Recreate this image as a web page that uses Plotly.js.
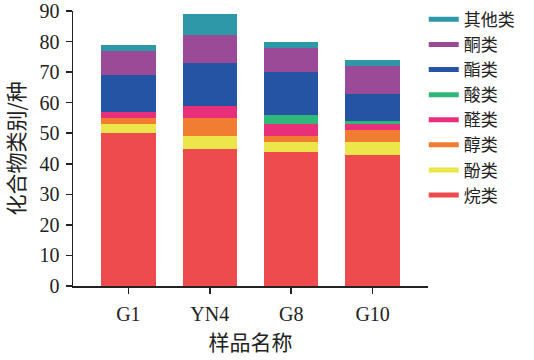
<!DOCTYPE html>
<html>
<head>
<meta charset="utf-8">
<script src="https://cdn.plot.ly/plotly-3.0.1.min.js"></script>
<style>html,body{margin:0;padding:0;background:#fff;}#chart{width:534px;height:360px;}</style>
</head>
<body>
<div id="chart"></div>
<script>
const samples = ['G1', 'YN4', 'G8', 'G10'];
const seriesNames = ['烷类', '酚类', '醇类', '醛类', '酸类', '酯类', '酮类', '其他类'];
const alkanes = [50, 45, 44, 43];
const phenols = [3, 4, 3, 4];
const alcohols = [2, 6, 2, 4];
const aldehydes = [2, 4, 4, 2];
const acids = [0, 0, 3, 1];
const esters = [12, 14, 14, 9];
const ketones = [8, 9, 8, 9];
const others = [2, 7, 2, 2];
const yTicks = [0, 10, 20, 30, 40, 50, 60, 70, 80, 90];

const seriesValues = [alkanes, phenols, alcohols, aldehydes, acids, esters, ketones, others];
const colors = ['#EE4B4E', '#EDE64B', '#F07D32', '#E8307A', '#2EB87A', '#2654A5', '#9B4A97', '#2E97A8'];

const cjk = '"Noto Sans CJK SC", "Noto Sans", sans-serif';
const serif = '"Liberation Serif", "Times New Roman", serif';

const traces = [];
seriesNames.forEach((name, i) => {
  traces.push({
    type: 'bar', x: samples, y: seriesValues[i], name: name,
    marker: {color: colors[i], line: {width: 0}},
    showlegend: false, hoverinfo: 'x+y+name'
  });
});
// legend entries (line-style keys), top to bottom
for (let i = seriesNames.length - 1; i >= 0; i--) {
  traces.push({
    type: 'scatter', mode: 'lines', x: [null], y: [null], name: seriesNames[i],
    line: {color: colors[i], width: 5}, showlegend: true, hoverinfo: 'skip'
  });
}

const layout = {
  width: 534, height: 360,
  margin: {l: 73, r: 106, t: 11, b: 74, autoexpand: false},
  paper_bgcolor: '#fff', plot_bgcolor: '#fff',
  barmode: 'stack', bargap: 0.33,
  showlegend: true,
  legend: {
    x: 0.988, xanchor: 'left', yref: 'container', y: 0.995, yanchor: 'top',
    traceorder: 'normal', tracegroupgap: 0, maxheight: 1,
    font: {family: cjk, size: 17, color: '#222'},
    bgcolor: 'rgba(0,0,0,0)', borderwidth: 0
  },
  xaxis: {
    type: 'category', range: [-0.68, 3.68],
    showline: true, linecolor: '#222', linewidth: 1.5,
    ticks: 'outside', ticklen: 6, tickwidth: 1.5, tickcolor: '#222',
    tickfont: {family: serif, size: 20, color: '#222'},
    ticklabelstandoff: 3,
    showgrid: false, zeroline: false,
    title: {text: '样品名称', font: {family: cjk, size: 21, color: '#222'}, standoff: 12}
  },
  yaxis: {
    range: [0, 90], tickvals: yTicks, ticktext: yTicks.map(String),
    showline: true, linecolor: '#222', linewidth: 1.5,
    ticks: 'outside', ticklen: 6, tickwidth: 1.5, tickcolor: '#222',
    tickfont: {family: serif, size: 20, color: '#222'},
    ticklabelstandoff: 2,
    showgrid: false, zeroline: false,
    title: {text: '化合物类别/种', font: {family: cjk, size: 21, color: '#222'}, standoff: 12}
  },
  font: {family: cjk}
};

Plotly.newPlot('chart', traces, layout, {displayModeBar: false, staticPlot: true});
</script>
</body>
</html>
